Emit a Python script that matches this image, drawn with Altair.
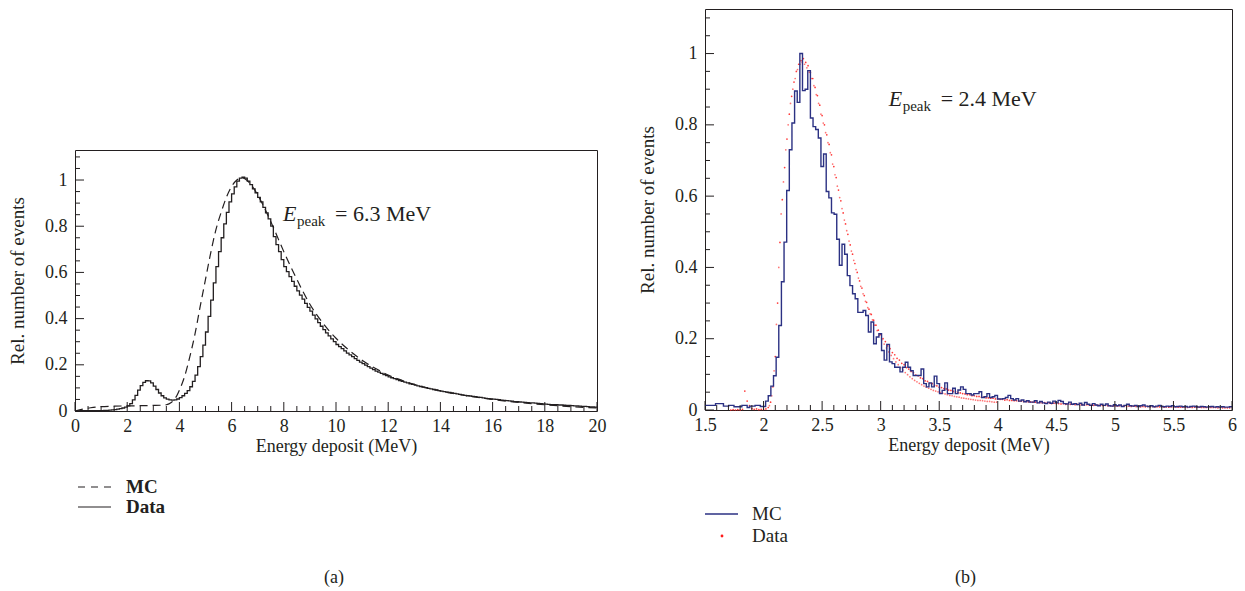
import altair as alt
import pandas as pd

FONT = "Liberation Serif"
INK = "#231f20"
BLUE = "#2b3183"
RED = "#ff1a1a"

# ---------------- Panel (a) ----------------
a_x_ticks = [0, 2, 4, 6, 8, 10, 12, 14, 16, 18, 20]
a_y_ticks = [0, 0.2, 0.4, 0.6, 0.8, 1]
a_bin_start = 0.0
a_bin_width = 0.1
a_data = [
    0.000, 0.000, 0.001, 0.001, 0.001, 0.001, 0.001, 0.002, 0.002, 0.002,
    0.002, 0.003, 0.003, 0.004, 0.005, 0.006, 0.008, 0.010, 0.013, 0.017,
    0.022, 0.032, 0.048, 0.068, 0.090, 0.110, 0.124, 0.131, 0.130, 0.122,
    0.108, 0.093, 0.078, 0.066, 0.057, 0.051, 0.048, 0.047, 0.048, 0.052,
    0.058, 0.066, 0.076, 0.088, 0.105, 0.128, 0.155, 0.192, 0.235, 0.285,
    0.342, 0.410, 0.480, 0.555, 0.625, 0.690, 0.750, 0.810, 0.860, 0.905,
    0.940, 0.970, 0.995, 1.008, 1.012, 1.008, 0.995, 0.980, 0.962, 0.945,
    0.925, 0.905, 0.882, 0.858, 0.832, 0.800, 0.755, 0.720, 0.690, 0.655,
    0.625, 0.603, 0.582, 0.561, 0.540, 0.520, 0.502, 0.484, 0.466, 0.449,
    0.432, 0.415, 0.399, 0.383, 0.367, 0.352, 0.338, 0.325, 0.312, 0.300,
    0.288, 0.279, 0.270, 0.260, 0.251, 0.243, 0.235, 0.227, 0.219, 0.212,
    0.205, 0.199, 0.192, 0.186, 0.179, 0.173, 0.168, 0.163, 0.158, 0.153,
    0.148, 0.144, 0.140, 0.136, 0.132, 0.128, 0.125, 0.122, 0.118, 0.115,
    0.112, 0.109, 0.106, 0.103, 0.101, 0.098, 0.096, 0.093, 0.091, 0.088,
    0.086, 0.084, 0.082, 0.080, 0.078, 0.076, 0.074, 0.072, 0.070, 0.068,
    0.066, 0.065, 0.063, 0.062, 0.060, 0.059, 0.057, 0.055, 0.054, 0.052,
    0.051, 0.050, 0.049, 0.047, 0.046, 0.045, 0.044, 0.043, 0.041, 0.040,
    0.039, 0.038, 0.037, 0.036, 0.035, 0.035, 0.034, 0.033, 0.032, 0.031,
    0.030, 0.029, 0.028, 0.028, 0.027, 0.026, 0.026, 0.025, 0.024, 0.024,
    0.023, 0.022, 0.022, 0.021, 0.020, 0.020, 0.019, 0.018, 0.018, 0.017,
]
a_mc_energy = [0, 0.3, 0.6, 1, 1.5, 2, 2.5, 3, 3.3, 3.5,
               3.6, 3.7, 3.8, 3.9, 4.0, 4.2, 4.4, 4.6, 4.8, 5.0,
               5.2, 5.4, 5.6, 5.8, 6.0, 6.2, 6.4, 6.6, 6.8, 7.0,
               7.2, 7.4, 7.6, 7.8, 8, 8.5, 9, 9.5, 10, 10.5,
               11, 11.5, 12, 12.5, 13, 14, 15, 16, 17, 18,
               19, 20]
a_mc_value = [0, 0.008, 0.014, 0.019, 0.021, 0.022, 0.023, 0.024, 0.025, 0.027,
              0.031, 0.038, 0.05, 0.066, 0.09, 0.15, 0.235, 0.335, 0.455, 0.57,
              0.685, 0.785, 0.86, 0.925, 0.972, 1.0, 1.01, 0.998, 0.972, 0.935,
              0.893, 0.845, 0.795, 0.742, 0.69, 0.57, 0.462, 0.38, 0.315, 0.263,
              0.22, 0.185, 0.156, 0.134, 0.115, 0.087, 0.066, 0.05, 0.037, 0.027,
              0.019, 0.013]
a_legend = ["MC", "Data"]
a_caption = "(a)"
a_peak_text = "= 6.3 MeV"

# ---------------- Panel (b) ----------------
b_x_ticks = [1.5, 2, 2.5, 3, 3.5, 4, 4.5, 5, 5.5, 6]
b_y_ticks = [0, 0.2, 0.4, 0.6, 0.8, 1]
b_bin_start = 1.5
b_bin_width = 0.0225
b_mc = [
    0.013, 0.013, 0.013, 0.013, 0.018, 0.018, 0.018, 0.011, 0.011, 0.013,
    0.013, 0.009, 0.009, 0.009, 0.013, 0.013, 0.007, 0.011, 0.011, 0.013,
    0.013, 0.010, 0.010,
    0.025, 0.04, 0.067, 0.096, 0.148, 0.237, 0.36, 0.471, 0.616, 0.73,
    0.805, 0.895, 0.863, 1.0, 0.896, 0.90, 0.952, 0.819, 0.795, 0.787,
    0.763, 0.683, 0.718, 0.613, 0.595, 0.553, 0.549, 0.479,
    0.406, 0.465, 0.437, 0.377, 0.349, 0.326, 0.312, 0.274, 0.274, 0.279,
    0.265, 0.219, 0.247, 0.186, 0.205, 0.214, 0.167, 0.14, 0.184, 0.135,
    0.13, 0.12, 0.12, 0.107, 0.12, 0.134, 0.12, 0.11, 0.097, 0.097,
    0.097, 0.115, 0.074, 0.065, 0.076, 0.065, 0.095, 0.074, 0.046, 0.055,
    0.076, 0.046, 0.046, 0.061, 0.046, 0.056, 0.065, 0.058, 0.046, 0.046,
    0.042, 0.046, 0.046, 0.051, 0.035, 0.037, 0.046, 0.035, 0.037, 0.041,
    0.031, 0.031, 0.032, 0.035, 0.041, 0.032, 0.028, 0.032, 0.025, 0.028,
    0.023, 0.026, 0.022, 0.022, 0.026, 0.02, 0.024, 0.02, 0.018, 0.022,
    0.019, 0.025, 0.02, 0.027, 0.024, 0.018, 0.017, 0.022, 0.016, 0.018,
    0.015, 0.019, 0.014, 0.021, 0.016, 0.013, 0.018, 0.014, 0.012, 0.016,
    0.013, 0.017, 0.012, 0.011, 0.015, 0.012, 0.014, 0.010, 0.013, 0.016,
    0.012, 0.011, 0.013, 0.010, 0.012, 0.014, 0.011, 0.010, 0.012, 0.009,
    0.011, 0.013, 0.010, 0.009, 0.011, 0.010, 0.012, 0.009, 0.010, 0.011,
    0.009, 0.010, 0.008, 0.010, 0.011, 0.009, 0.008, 0.010, 0.009, 0.008,
    0.009, 0.010, 0.008, 0.009, 0.008, 0.009, 0.008, 0.008, 0.009,
]
b_data1_start = 1.72
b_data1_step = 0.02
b_data1 = [
    0.000, 0.001, 0.000, 0.001, 0.000, 0.002, 0.053, 0.025, 0.012, 0.004,
    0.002, 0.003, 0.001, 0.002, 0.002, 0.003, 0.007,
    0.022, 0.065, 0.15, 0.30, 0.47, 0.59, 0.68, 0.76, 0.83, 0.88,
    0.92, 0.95, 0.97, 0.98, 0.986, 0.975, 0.966, 0.947, 0.93, 0.905,
    0.882, 0.855, 0.826, 0.80, 0.772, 0.745, 0.716, 0.683, 0.652, 0.617,
    0.587, 0.553, 0.522, 0.493, 0.463, 0.437, 0.411, 0.386, 0.362, 0.342,
    0.321, 0.302, 0.283, 0.268, 0.252, 0.238, 0.224, 0.212,
    0.200, 0.192, 0.180, 0.172, 0.161, 0.155, 0.145, 0.140, 0.131, 0.127,
    0.119, 0.115, 0.108, 0.105, 0.098, 0.096, 0.090, 0.088, 0.082, 0.080,
    0.075, 0.074, 0.069, 0.068, 0.064, 0.063, 0.060, 0.059, 0.056, 0.055,
    0.052, 0.051, 0.049, 0.048, 0.046, 0.045, 0.043, 0.043, 0.040, 0.040,
    0.038, 0.038, 0.036, 0.036, 0.034, 0.034, 0.033, 0.033, 0.031, 0.031,
    0.030, 0.030, 0.028, 0.029, 0.027, 0.027, 0.026, 0.026, 0.025, 0.025,
    0.024, 0.024, 0.023, 0.023, 0.022, 0.022, 0.021, 0.021, 0.020, 0.021,
    0.019, 0.020, 0.018, 0.019, 0.018, 0.018, 0.017, 0.018, 0.016, 0.017,
    0.016, 0.016, 0.015, 0.016, 0.015, 0.015, 0.014, 0.015, 0.014, 0.014,
    0.013, 0.014, 0.013, 0.013, 0.012, 0.013, 0.012, 0.012, 0.011, 0.012,
    0.011, 0.012, 0.011, 0.011, 0.010, 0.011, 0.010, 0.011, 0.010, 0.010,
    0.009, 0.010, 0.009, 0.010, 0.009, 0.010, 0.009, 0.009, 0.009, 0.009,
    0.008, 0.009, 0.008, 0.009, 0.008, 0.009, 0.008, 0.008, 0.008, 0.008,
    0.007, 0.008, 0.007, 0.008, 0.007, 0.008, 0.007, 0.007, 0.007, 0.007,
    0.007, 0.007, 0.007, 0.006, 0.007, 0.006, 0.006, 0.006, 0.006,
]
b_data2_start = 2.05
b_data2_step = 0.02
b_data2 = [
    0.012, 0.04, 0.11, 0.24, 0.40, 0.55, 0.64, 0.73, 0.80, 0.86,
    0.90, 0.93, 0.955, 0.97, 0.975, 0.97, 0.96, 0.948, 0.93, 0.91,
    0.885, 0.86, 0.83, 0.805, 0.778, 0.75, 0.722, 0.69, 0.66, 0.628,
    0.596, 0.565, 0.533, 0.503, 0.474, 0.446, 0.42, 0.394, 0.37, 0.347,
    0.326, 0.305, 0.287, 0.27, 0.253, 0.238, 0.223, 0.21, 0.197, 0.185,
    0.174, 0.163, 0.153, 0.144, 0.135, 0.127, 0.119, 0.112, 0.105, 0.099,
    0.093, 0.088, 0.083, 0.079, 0.075, 0.071, 0.067, 0.064, 0.061, 0.058,
    0.055, 0.053, 0.051, 0.049, 0.047, 0.045, 0.043, 0.041, 0.040, 0.038,
    0.037, 0.036, 0.034, 0.033, 0.032, 0.031, 0.030, 0.029, 0.028, 0.027,
    0.027, 0.026, 0.025, 0.024, 0.024, 0.023, 0.022, 0.022,
]
b_legend = ["MC", "Data"]
b_caption = "(b)"
b_peak_text = "= 2.4 MeV"


def step_frame(start, width, values):
    edges = [round(start + width * i, 5) for i in range(len(values) + 1)]
    return pd.DataFrame({"E": edges, "v": list(values) + [values[-1]]})


def point_frame(start, step, values):
    xs = [round(start + step * i, 4) for i in range(len(values))]
    return pd.DataFrame({"E": xs, "v": values})


def axis_x(values):
    return alt.Axis(values=values, format="~g", title="Energy deposit (MeV)", ticks=False,
                    domain=False, grid=False, labelFont=FONT, labelFontSize=18,
                    labelColor=INK, labelPadding=6, titleFont=FONT, titleFontSize=18,
                    titleFontWeight="normal", titleColor=INK, titleBaseline="alphabetic",
                    titleY=40, labelFlush=False)


def axis_y(values):
    return alt.Axis(values=values, format="~g", title="Rel. number of events", ticks=False,
                    domain=False, grid=False, labelFont=FONT, labelFontSize=18,
                    labelColor=INK, labelPadding=8, titleFont=FONT, titleFontSize=19,
                    titleFontWeight="normal", titleColor=INK, titlePadding=17,
                    labelFlush=False)


class Panel:
    def __init__(self, xdom, ydom, xticks, yticks):
        self.xs = alt.Scale(domain=xdom, nice=False, zero=False)
        self.ys = alt.Scale(domain=ydom, nice=False, zero=False)
        self.xa = axis_x(xticks)
        self.ya = axis_y(yticks)

    def X(self, field):
        return alt.X(field, scale=self.xs, axis=self.xa)

    def Y(self, field):
        return alt.Y(field, scale=self.ys, axis=self.ya)


def tick_layers(P, x_major, x_minor, y_major, y_minor, H):
    out = []
    for vals, L in [(x_major, 9), (x_minor, 5)]:
        out.append(alt.Chart(pd.DataFrame({"E": vals})).mark_rule(color=INK, strokeWidth=1).encode(
            x=P.X("E:Q"), y=alt.value(H), y2=alt.value(H - L)))
    for vals, L in [(y_major, 9), (y_minor, 5)]:
        out.append(alt.Chart(pd.DataFrame({"v": vals})).mark_rule(color=INK, strokeWidth=1).encode(
            y=P.Y("v:Q"), x=alt.value(0), x2=alt.value(L)))
    return out


def peak_label(P, ex, ey, rest):
    df = pd.DataFrame({"E": [ex], "v": [ey]})
    base = alt.Chart(df)
    enc = dict(x=P.X("E:Q"), y=P.Y("v:Q"))
    return [
        base.mark_text(text="E", font=FONT, fontSize=22, fontStyle="italic", align="left",
                       baseline="alphabetic", color=INK).encode(**enc),
        base.mark_text(text="peak", font=FONT, fontSize=15, align="left", baseline="alphabetic",
                       dx=14, dy=5, color=INK).encode(**enc),
        base.mark_text(text=rest, font=FONT, fontSize=22, align="left", baseline="alphabetic",
                       dx=52, color=INK).encode(**enc),
    ]


one = pd.DataFrame({"k": [0]})
frame = alt.ViewBackground(stroke=INK, strokeWidth=1, fill="white")

# ---------------- build (a) ----------------
AW, AH = 522, 261
PA = Panel([0, 20], [0, 1.13], a_x_ticks, a_y_ticks)
a_x_minor = [round(0.5 * i, 2) for i in range(41) if i % 4]
a_y_minor = [round(0.05 * i, 2) for i in range(23) if i % 4]

a_data_line = alt.Chart(step_frame(a_bin_start, a_bin_width, a_data)).mark_line(
    interpolate="step-after", color=INK, strokeWidth=1.3).encode(
    x=PA.X("E:Q"), y=PA.Y("v:Q"))
a_mc_line = alt.Chart(pd.DataFrame({"E": a_mc_energy, "v": a_mc_value})).mark_line(
    interpolate="monotone", color=INK, strokeWidth=1.2, strokeDash=[8, 5]).encode(
    x=PA.X("E:Q"), y=PA.Y("v:Q"))

a_leg = []
for i, (lab, dash) in enumerate(zip(a_legend, [[7, 6], [1, 0]])):
    yy = 337 + 20 * i
    a_leg.append(alt.Chart(one).mark_rule(color=INK, strokeWidth=1.2, strokeDash=dash).encode(
        x=alt.value(3), x2=alt.value(36), y=alt.value(yy), y2=alt.value(yy)))
    a_leg.append(alt.Chart(one).mark_text(text=lab, font=FONT, fontSize=19, fontWeight="bold",
                                          align="left", baseline="middle", color=INK).encode(
        x=alt.value(51), y=alt.value(yy)))
a_cap = alt.Chart(one).mark_text(text=a_caption, font=FONT, fontSize=18, align="center",
                                 baseline="middle", color=INK).encode(
    x=alt.value(AW / 2 - 2), y=alt.value(428))

a_plot = alt.layer(
    a_data_line, a_mc_line,
    *tick_layers(PA, a_x_ticks, a_x_minor, a_y_ticks, a_y_minor, AH),
    *peak_label(PA, 7.97, 0.822, a_peak_text),
    *a_leg, a_cap,
).properties(width=AW, height=AH, view=frame)

spacer = alt.Chart(one).mark_text(text="").properties(
    width=AW, height=139, view=alt.ViewBackground(stroke="transparent"))
left_col = alt.vconcat(spacer, a_plot, spacing=0)

# ---------------- build (b) ----------------
BW, BH = 527, 401
PB = Panel([1.5, 6], [0, 1.125], b_x_ticks, b_y_ticks)
b_x_minor = [round(1.5 + 0.1 * i, 2) for i in range(46) if i % 5]
b_y_minor = [round(0.05 * i, 2) for i in range(23) if i % 4]

b_mc_line = alt.Chart(step_frame(b_bin_start, b_bin_width, b_mc)).mark_line(
    interpolate="step-after", color=BLUE, strokeWidth=1.4).encode(
    x=PB.X("E:Q"), y=PB.Y("v:Q"))
b_pts1 = alt.Chart(point_frame(b_data1_start, b_data1_step, b_data1)).mark_circle(
    color=RED, size=3, opacity=0.85).encode(x=PB.X("E:Q"), y=PB.Y("v:Q"))
b_pts2 = alt.Chart(point_frame(b_data2_start, b_data2_step, b_data2)).mark_circle(
    color=RED, size=3, opacity=0.6).encode(x=PB.X("E:Q"), y=PB.Y("v:Q"))

b_leg = [
    alt.Chart(one).mark_rule(color=BLUE, strokeWidth=1.4).encode(
        x=alt.value(0), x2=alt.value(33), y=alt.value(505), y2=alt.value(505)),
    alt.Chart(one).mark_circle(color=RED, size=8, opacity=1).encode(
        x=alt.value(17), y=alt.value(527)),
]
for i, lab in enumerate(b_legend):
    b_leg.append(alt.Chart(one).mark_text(text=lab, font=FONT, fontSize=19, align="left",
                                          baseline="middle", color=INK).encode(
        x=alt.value(47), y=alt.value(505 + 22 * i)))
b_cap = alt.Chart(one).mark_text(text=b_caption, font=FONT, fontSize=18, align="center",
                                 baseline="middle", color=INK).encode(
    x=alt.value(BW / 2 - 3), y=alt.value(569))

b_plot = alt.layer(
    b_pts2, b_pts1, b_mc_line,
    *tick_layers(PB, b_x_ticks, b_x_minor, b_y_ticks, b_y_minor, BH),
    *peak_label(PB, 3.068, 0.854, b_peak_text),
    *b_leg, b_cap,
).properties(width=BW, height=BH, view=frame)

chart = alt.hconcat(left_col, b_plot, spacing=31).properties(
    padding={"left": 0, "top": 0, "right": 0, "bottom": 0}
).configure(background="white")

chart.save("out.html", embed_options={"renderer": "svg", "actions": False})
